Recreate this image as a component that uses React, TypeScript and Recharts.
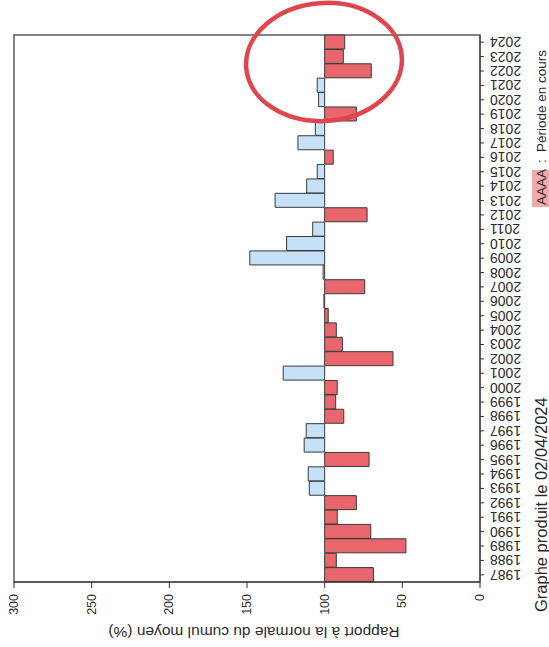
import React from 'react';
import * as R from 'recharts';
import { BarChart, Bar, XAxis, YAxis, Cell } from 'recharts';

// rapport à la normale (%) par année
const years = [
  '1987', '1988', '1989', '1990', '1991', '1992', '1993', '1994', '1995', '1996',
  '1997', '1998', '1999', '2000', '2001', '2002', '2003', '2004', '2005', '2006',
  '2007', '2008', '2009', '2010', '2011', '2012', '2013', '2014', '2015', '2016',
  '2017', '2018', '2019', '2020', '2021', '2022', '2023', '2024',
];
const ratios = [
  68.6, 92.5, 47.7, 70.3, 91.9, 79.6, 109.9, 110.6, 71.4, 113.2,
  111.9, 87.7, 92.9, 91.9, 126.7, 56, 88.6, 92.5, 97.7, 100.5,
  74.2, 101, 148.2, 124.5, 107.7, 72.7, 131.9, 111.6, 104.8, 94.5,
  117.2, 106, 79.6, 103.9, 104.8, 70, 88, 87.1,
];
const valueTicks = [0, 50, 100, 150, 200, 250, 300];
const normal = 100;

const data = years.map((year, i) => ({ year, value: ratios[i], range: [normal, ratios[i]] }));

const font = '"Liberation Sans", Arial, sans-serif';
const ink = '#2b2b2b';

const usePlotAreaSafe: () => any = (R as any).usePlotArea ?? (() => null);

// cadre complet autour de la zone de tracé
const Frame = () => {
  const area = usePlotAreaSafe();
  if (!area) return null;
  return <rect x={area.x} y={area.y} width={area.width} height={area.height} fill="none" stroke="#333" strokeWidth={1.2} />;
};

const YearTick = (props: any) => {
  const { x, y, payload } = props;
  const tx = x + 4;
  return (
    <text
      x={tx}
      y={y}
      transform={`rotate(180, ${tx}, ${y})`}
      textAnchor="end"
      dominantBaseline="central"
      fontSize={14}
      fontFamily={font}
      fill={ink}
    >
      {payload.value}
    </text>
  );
};

const ValueTick = (props: any) => {
  const { x, y, payload } = props;
  const ty = y + 4;
  return (
    <text
      x={x}
      y={ty}
      transform={`rotate(-90, ${x}, ${ty})`}
      textAnchor="end"
      dominantBaseline="central"
      fontSize={12.5}
      fontFamily={font}
      fill={ink}
    >
      {payload.value}
    </text>
  );
};

export default function App() {
  return (
    <div style={{ position: 'absolute', left: 0, top: 0, width: 549, height: 647, background: '#fff' }}>
      <BarChart
        width={549}
        height={647}
        data={data}
        layout="vertical"
        barCategoryGap={0}
        margin={{ top: 35, right: 33, bottom: 40, left: 14 }}
      >
        <XAxis
          type="number"
          domain={[0, 300]}
          ticks={valueTicks}
          reversed
          interval={0}
          height={25}
          tickSize={6}
          stroke="#333"
          tick={<ValueTick />}
        />
        <YAxis
          type="category"
          dataKey="year"
          orientation="right"
          reversed
          width={36}
          interval={0}
          tickSize={4}
          stroke="#333"
          tick={<YearTick />}
        />
        <Bar dataKey="range" stroke="#3a3a3a" strokeWidth={1} isAnimationActive={false}>
          {data.map((d) => (
            <Cell key={d.year} fill={d.value < normal ? '#e9666d' : '#c4e1f7'} />
          ))}
        </Bar>
        <Frame />
      </BarChart>
      <svg width={549} height={647} style={{ position: 'absolute', left: 0, top: 0, pointerEvents: 'none' }}>
        <text
          x={254}
          y={632}
          transform="rotate(180, 254, 632)"
          textAnchor="middle"
          dominantBaseline="central"
          fontSize={15.5}
          fontFamily={font}
          fill={ink}
        >
          Rapport à la normale du cumul moyen (%)
        </text>
        <g transform="rotate(-90, 541, 205)">
          <rect x={539} y={196} width={37} height={17} fill="#f2a9ad" />
          <text x={541} y={205} dominantBaseline="central" fontSize={13.5} fontFamily={font} fill={ink}>
            AAAA
          </text>
          <text x={583} y={205} dominantBaseline="central" fontSize={13.5} fontFamily={font} fill={ink}>
            :
          </text>
          <text x={594} y={205} dominantBaseline="central" fontSize={13.5} fontFamily={font} fill={ink}>
            Période en cours
          </text>
        </g>
        <text
          x={541}
          y={612}
          transform="rotate(-90, 541, 612)"
          dominantBaseline="central"
          fontSize={16.5}
          fontFamily={font}
          fill={ink}
        >
          Graphe produit le 02/04/2024
        </text>
        <ellipse cx={324} cy={62} rx={78} ry={59} fill="none" stroke="#e0454d" strokeWidth={4.5} transform="rotate(-4, 324, 62)" />
      </svg>
    </div>
  );
}
